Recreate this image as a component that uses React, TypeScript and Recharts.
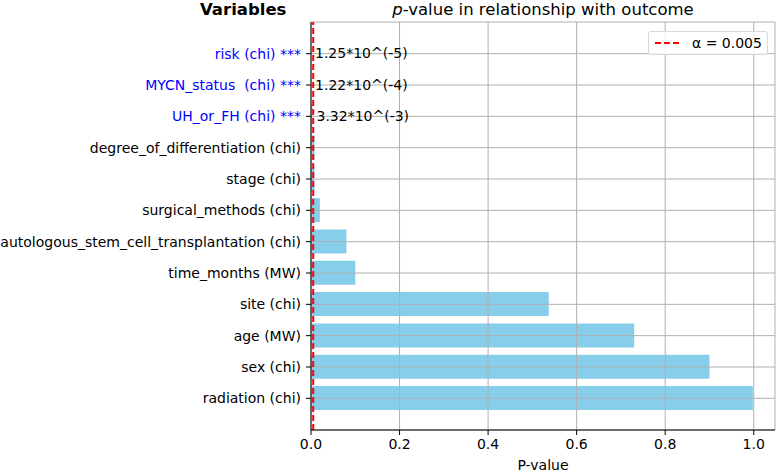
import React from 'react';
import {
  BarChart, Bar, XAxis, YAxis, CartesianGrid, ReferenceLine, LabelList,
} from 'recharts';

const variables = [
  'risk (chi) ***',
  'MYCN_status  (chi) ***',
  'UH_or_FH (chi) ***',
  'degree_of_differentiation (chi)',
  'stage (chi)',
  'surgical_methods (chi)',
  'autologous_stem_cell_transplantation (chi)',
  'time_months (MW)',
  'site (chi)',
  'age (MW)',
  'sex (chi)',
  'radiation (chi)',
];

const pValues = [
  0.0000125, 0.000122, 0.00332, 0.008, 0.008, 0.02,
  0.08, 0.1, 0.537, 0.73, 0.9, 0.998,
];

const notes = [
  '1.25*10^(-5)', '1.22*10^(-4)', '3.32*10^(-3)',
  '', '', '', '', '', '', '', '', '',
];

const significant = [true, true, true, false, false, false, false, false, false, false, false, false];

const xTicks = [0, 0.2, 0.4, 0.6, 0.8, 1.0];
const alpha = 0.005;

const FONT = '"DejaVu Sans", sans-serif';
const X_MAX = 1.048;

const data = variables.map((name, i) => ({
  name,
  p: pValues[i],
  note: notes[i],
  sig: significant[i],
}));

const YTick = (props: any) => {
  const { x, y, payload } = props;
  const row = data[payload.index];
  return (
    <text
      x={x + 1}
      y={y}
      textAnchor="end"
      dominantBaseline="central"
      fontFamily={FONT}
      fontSize={14}
      fill={row && row.sig ? '#0000ff' : '#000'}
      style={{ whiteSpace: 'pre' }}
    >
      {payload.value}
    </text>
  );
};

const NoteLabel = (props: any) => {
  const { x, y, width, height, value } = props;
  if (!value) return null;
  return (
    <text
      x={Number(x) + Number(width) + 4}
      y={Number(y) + Number(height) / 2}
      dominantBaseline="central"
      fontFamily={FONT}
      fontSize={14}
      fill="#000"
    >
      {value}
    </text>
  );
};

export default function App() {
  return (
    <div style={{ position: 'absolute', left: 0, top: 0, width: 778, height: 472, fontFamily: FONT }}>
      <div style={{ position: 'absolute', left: 200, top: 1, fontSize: 16.5, fontWeight: 'bold', lineHeight: '18px' }}>
        Variables
      </div>
      <div style={{ position: 'absolute', left: 311, width: 464, top: 0, fontSize: 16.5, textAlign: 'center', lineHeight: '19px' }}>
        <i>p</i>-value in relationship with outcome
      </div>
      <BarChart
        width={778}
        height={472}
        data={data}
        layout="vertical"
        margin={{ top: 22, right: 3, bottom: 0, left: 0 }}
        barCategoryGap="11%"
      >
        <XAxis
          type="number"
          dataKey="p"
          domain={[0, X_MAX]}
          allowDataOverflow
          ticks={xTicks}
          tickFormatter={(v: number) => v.toFixed(1)}
          height={42}
          tickSize={5}
          tickMargin={4}
          stroke="#000"
          tick={{ fill: '#000', fontSize: 14, fontFamily: FONT }}
          label={{ value: 'P-value', position: 'insideBottom', offset: 2, fill: '#000', fontSize: 14, fontFamily: FONT }}
        />
        <XAxis
          xAxisId="top"
          orientation="top"
          type="number"
          domain={[0, X_MAX]}
          height={0}
          tick={false}
          tickLine={false}
          stroke="#000"
        />
        <YAxis
          type="category"
          dataKey="name"
          width={311}
          padding={{ top: 16, bottom: 16 }}
          tickSize={5}
          tickMargin={6}
          stroke="#000"
          interval={0}
          tick={<YTick />}
        />
        <YAxis
          yAxisId="right"
          orientation="right"
          type="number"
          width={0}
          tick={false}
          tickLine={false}
          stroke="#000"
        />
        <Bar dataKey="p" fill="#87ceeb" isAnimationActive={false}>
          <LabelList dataKey="note" content={<NoteLabel />} />
        </Bar>
        <CartesianGrid stroke="#b0b0b0" strokeWidth={1} zIndex={350} />
        <ReferenceLine
          x={alpha}
          stroke="#ff0000"
          strokeWidth={2}
          strokeDasharray="6 3"
          zIndex={400}
        />
      </BarChart>
      <div
        style={{
          position: 'absolute', left: 648, top: 31, width: 118, height: 22,
          border: '1px solid #d8d8d8', borderRadius: 3, background: 'rgba(255,255,255,0.8)',
          display: 'flex', alignItems: 'center', fontSize: 14,
        }}
      >
        <svg width={38} height={10} style={{ marginLeft: 5 }}>
          <line x1={1} y1={5} x2={28} y2={5} stroke="#ff0000" strokeWidth={2} strokeDasharray="6 3" />
        </svg>
        <span>α = 0.005</span>
      </div>
    </div>
  );
}
